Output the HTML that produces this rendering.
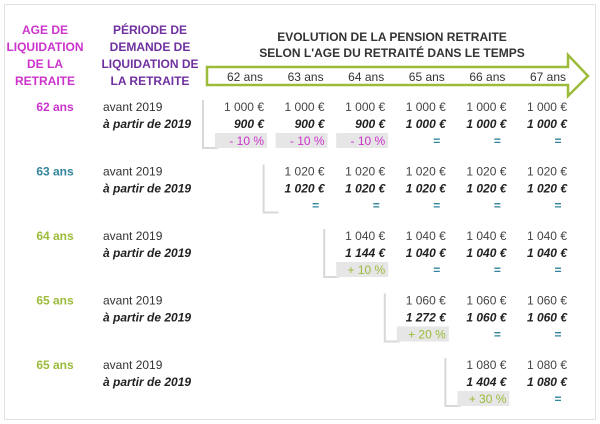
<!DOCTYPE html>
<html><head><meta charset="utf-8"><style>
html,body{margin:0;padding:0;background:#fff;}
svg{display:block;font-family:"Liberation Sans",sans-serif;}
</style></head><body>
<svg id="chart" width="600" height="424" viewBox="0 0 600 424">
<rect x="4.5" y="4.5" width="591" height="415" fill="#fff" stroke="#e2e2e2"/>
<g font-weight="bold" font-size="12" text-anchor="middle" fill="#cc33cc">
<text x="45" y="34">AGE DE</text><text x="45" y="51">LIQUIDATION</text><text x="45" y="68">DE LA</text><text x="45" y="85">RETRAITE</text></g>
<g font-weight="bold" font-size="12" text-anchor="middle" fill="#7030a0">
<text x="150" y="34">PÉRIODE DE</text><text x="150" y="51">DEMANDE DE</text><text x="150" y="68">LIQUIDATION DE</text><text x="150" y="85">LA RETRAITE</text></g>
<g font-weight="bold" font-size="12" text-anchor="middle" fill="#333">
<text x="392" y="41">EVOLUTION DE LA PENSION RETRAITE</text><text x="392" y="57">SELON L'AGE DU RETRAITÉ DANS LE TEMPS</text></g>
<path d="M207,67 L568,67 L568,55 L588,76 L568,96 L568,85 L207,85 Z" fill="#fff" stroke="#9bbb3b" stroke-width="2.5"/>
<g id="g"></g>
</svg>
<script>
const ages=["62 ans","63 ans","64 ans","65 ans","66 ans","67 ans"];
const rowLabels=["62 ans","63 ans","64 ans","65 ans","65 ans"];
const rowColors=["#cc33cc","#31849b","#9bbb3b","#9bbb3b","#9bbb3b"];
const before=[1000,1020,1040,1060,1080];
const after=[
 [900,900,900,1000,1000,1000],
 [1020,1020,1020,1020,1020],
 [1144,1040,1040,1040],
 [1272,1060,1060],
 [1404,1080]];
const pct=[
 [-10,-10,-10,0,0,0],
 [0,0,0,0,0],
 [10,0,0,0],
 [20,0,0],
 [30,0]];
const NS="http://www.w3.org/2000/svg";
const g=document.getElementById("g");
function colRight(c){return 264+c*60.6;}
function rowY(r){return 107+r*64.5;}
function fmt(v){const s=String(v);return (s.length>3?s.slice(0,-3)+" "+s.slice(-3):s)+" €";}
function el(tag,attrs,txt){const e=document.createElementNS(NS,tag);for(const k in attrs)e.setAttribute(k,attrs[k]);if(txt!=null)e.textContent=txt;g.appendChild(e);return e;}
ages.forEach((a,i)=>{
 const t=el("text",{x:colRight(i)-19,y:81,"font-size":12,"text-anchor":"middle",fill:"#333"},a);
 
 
});
rowLabels.forEach((lab,r)=>{
 const y=rowY(r);
 const t=el("text",{x:55,y:y+4,"font-size":12,"font-weight":"bold","text-anchor":"middle",fill:rowColors[r]},lab);
 
 
 const t1=el("text",{x:103,y:y+4,"font-size":12,fill:"#333"},"avant 2019");
 
 
 const t2=el("text",{x:103,y:y+21,"font-size":12,"font-style":"italic","font-weight":"bold",fill:"#222"},"à partir de 2019");
 
 
 const c0=r;
 const bx=colRight(c0)-61;
 const br=el("path",{d:`M${bx},${y-7} L${bx},${y+41} L${bx+15},${y+41}`,fill:"none",stroke:"#d8d8d8","stroke-width":2});
 
 
 after[r].forEach((v,k)=>{
  const c=c0+k, x=colRight(c);
  const a=el("text",{x:x,y:y+4,"font-size":12,"text-anchor":"end",fill:"#444"},fmt(before[r]));
  
  
  const b=el("text",{x:x,y:y+21,"font-size":12,"text-anchor":"end","font-style":"italic","font-weight":"bold",fill:"#222"},fmt(v));
  
  
  const p=pct[r][k];
  if(p!==0){
   const bg=el("rect",{x:x-49,y:y+26,width:52,height:15,fill:"#e6e6e6"});
   
   
   const pt=el("text",{x:x,y:y+38,"font-size":12,"text-anchor":"end",fill:p<0?"#cc33cc":"#9bbb3b"},(p<0?"- ":"+ ")+Math.abs(p)+" %");
   
   
  } else {
   const e=el("text",{x:x-9,y:y+38,"font-size":12,"font-weight":"bold","text-anchor":"middle",fill:"#31849b"},"=");
   
   
  }
 });
});
</script>
</body></html>
